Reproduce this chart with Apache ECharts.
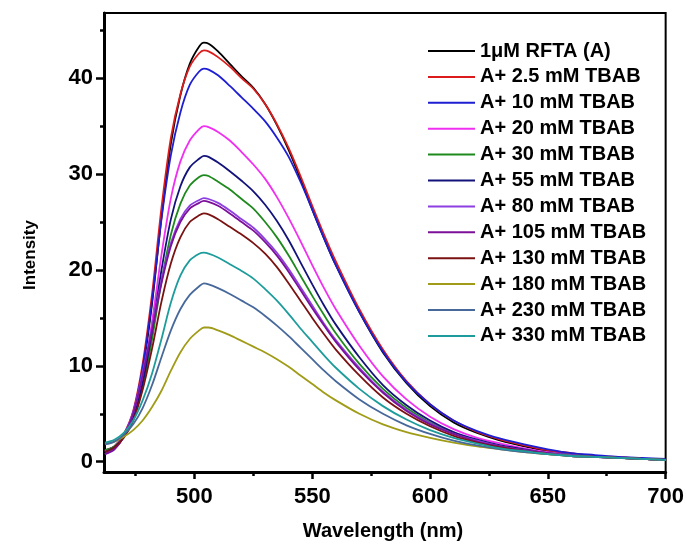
<!DOCTYPE html>
<html>
<head>
<meta charset="utf-8">
<script src="https://cdn.jsdelivr.net/npm/echarts@6/dist/echarts.min.js"></script>
<style>
html,body{margin:0;padding:0;background:#fff;}
#chart{width:687px;height:545px;}
</style>
</head>
<body>
<div id="chart"></div>
<script>
const wavelengths = [462,466,470,474,478,482,486,490,494,498,502,504,506,510,515,520,525,530,535,540,545,550,555,560,570,580,590,600,610,620,630,640,650,660,670,680,690,700];

const seriesNames = ['1\u03bcM RFTA (A)','A+ 2.5 mM TBAB','A+ 10 mM TBAB','A+ 20 mM TBAB','A+ 30 mM TBAB','A+ 55 mM TBAB','A+ 80 mM TBAB','A+ 105 mM TBAB','A+ 130 mM TBAB','A+ 180 mM TBAB','A+ 230 mM TBAB','A+ 330 mM TBAB'];
const seriesColors = ['#000000','#dc1c1c','#1e1ed2','#f030f0','#1e8a1e','#12127a','#8c3ee0','#7c1098','#7a1212','#a09c18','#47689a','#1e9c9c'];

const rfta   = [1.2,1.6,2.8,5.0,9.5,16.5,25.5,33.2,38.2,41.5,43.3,43.7,43.6,42.8,41.5,40.2,39.0,37.3,35.1,32.5,29.5,26.3,23.3,20.5,15.6,11.4,8.2,5.8,4.1,3.0,2.2,1.6,1.1,0.8,0.6,0.4,0.3,0.2];
const tbab2p5= [1.1,1.6,2.9,5.3,10.2,17.5,26.5,33.8,38.3,41.2,42.6,42.9,42.8,42.2,41.2,40.0,38.9,37.3,35.2,32.7,29.8,26.7,23.7,20.9,15.9,11.7,8.4,6.0,4.3,3.1,2.3,1.7,1.2,0.9,0.6,0.5,0.3,0.2];
const tbab10 = [1.0,1.5,2.8,5.1,9.8,16.8,25.3,32.0,36.4,39.3,40.7,41.0,40.9,40.3,39.2,38.0,36.8,35.5,33.8,31.8,29.2,26.3,23.3,20.5,15.6,11.5,8.3,6.0,4.3,3.2,2.4,1.8,1.3,0.9,0.7,0.5,0.4,0.3];
const tbab20 = [1.1,1.6,2.7,4.7,8.6,14.6,21.6,27.5,31.3,33.5,34.7,35.0,34.9,34.4,33.5,32.3,31.0,29.5,27.6,25.4,23.0,20.5,18.1,15.9,12.1,8.9,6.5,4.7,3.4,2.5,1.9,1.4,1.0,0.7,0.5,0.4,0.3,0.2];
const tbab30 = [1.2,1.6,2.6,4.4,7.8,12.8,18.8,23.7,26.9,28.8,29.7,29.9,29.8,29.2,28.4,27.4,26.4,25.0,23.4,21.5,19.4,17.3,15.3,13.4,10.2,7.6,5.6,4.1,3.0,2.2,1.6,1.2,0.9,0.7,0.5,0.4,0.3,0.2];
const tbab55 = [1.0,1.5,2.6,4.5,8.2,13.6,20.0,25.3,28.7,30.7,31.6,31.9,31.8,31.2,30.3,29.3,28.2,26.8,25.1,23.1,20.8,18.5,16.3,14.3,10.9,8.0,5.9,4.3,3.1,2.3,1.7,1.3,0.9,0.7,0.5,0.4,0.3,0.2];
const tbab80 = [0.8,1.3,2.7,5.2,9.3,14.0,18.9,22.8,25.3,26.7,27.3,27.5,27.4,27.0,26.2,25.3,24.4,23.2,21.8,20.1,18.2,16.3,14.4,12.7,9.8,7.3,5.4,4.0,2.9,2.2,1.6,1.2,0.9,0.7,0.5,0.4,0.3,0.2];
const tbab105= [0.8,1.3,2.6,5.0,9.0,13.7,18.6,22.5,25.0,26.4,27.0,27.2,27.1,26.7,25.9,25.0,24.1,22.9,21.5,19.8,17.9,16.0,14.2,12.5,9.6,7.2,5.3,3.9,2.9,2.1,1.6,1.2,0.9,0.6,0.5,0.4,0.3,0.2];
const tbab130= [1.0,1.5,2.5,4.3,7.5,11.8,16.7,20.7,23.4,25.0,25.7,25.9,25.8,25.3,24.5,23.7,22.8,21.7,20.3,18.6,16.8,15.0,13.3,11.7,9.0,6.7,5.0,3.7,2.7,2.0,1.5,1.1,0.8,0.6,0.5,0.4,0.3,0.2];
const tbab180= [1.9,2.1,2.6,3.3,4.3,5.7,7.4,9.5,11.4,12.8,13.7,14.0,14.0,13.7,13.2,12.6,12.0,11.4,10.7,9.9,9.0,8.1,7.2,6.4,5.0,3.9,3.1,2.5,2.0,1.6,1.3,1.0,0.8,0.6,0.5,0.4,0.3,0.2];
const tbab230= [1.8,2.1,2.8,3.9,5.6,8.0,10.9,13.7,15.9,17.4,18.3,18.6,18.5,18.1,17.5,16.8,16.1,15.2,14.2,13.1,11.9,10.7,9.5,8.4,6.5,5.0,3.8,2.9,2.2,1.7,1.3,1.0,0.8,0.6,0.5,0.4,0.3,0.2];
const tbab330= [2.0,2.3,3.0,4.3,6.4,9.2,12.8,16.6,19.4,21.0,21.7,21.8,21.7,21.3,20.6,19.9,19.1,18.0,16.8,15.4,13.9,12.5,11.1,9.8,7.6,5.8,4.4,3.3,2.5,1.9,1.4,1.1,0.8,0.6,0.5,0.4,0.3,0.2];

const allValues = [rfta,tbab2p5,tbab10,tbab20,tbab30,tbab55,tbab80,tbab105,tbab130,tbab180,tbab230,tbab330];

const xMajorTicks = [500,550,600,650,700];
const xMinorTicks = [475,525,575,625,675];
const yMajorTicks = [0,10,20,30,40];
const yMinorTicks = [5,15,25,35,45];

const FONT = 'Liberation Sans, Arial, sans-serif';
const chart = echarts.init(document.getElementById('chart'), null, {renderer:'canvas'});

const series = allValues.map((vals, k) => ({
  name: seriesNames[k],
  type: 'line',
  xAxisIndex: 0,
  yAxisIndex: 0,
  data: wavelengths.map((w, i) => [w, vals[i]]),
  smooth: 0.3,
  showSymbol: false,
  symbol: 'none',
  lineStyle: {color: seriesColors[k], width: 1.8},
  itemStyle: {color: seriesColors[k]},
  animation: false,
  z: 2
}));

const option = {
  animation: false,
  backgroundColor: '#ffffff',
  grid: {left: 104, right: 21, top: 13, bottom: 73, show: true, borderColor: '#000', borderWidth: 2, backgroundColor: 'transparent'},
  legend: {
    orient: 'vertical',
    left: 428,
    top: 41,
    padding: 0,
    icon: 'rect',
    itemWidth: 47,
    itemHeight: 2,
    itemGap: 5.9,
    data: seriesNames,
    textStyle: {fontFamily: FONT, fontWeight: 'bold', fontSize: 20, color: '#000', lineHeight: 20}
  },
  xAxis: [
    {
      type: 'value', min: 461.6, max: 700, position: 'bottom',
      axisLine: {show: true, onZero: false, lineStyle: {color: '#000', width: 3}},
      axisTick: {show: true, customValues: xMajorTicks, length: 7, lineStyle: {color: '#000', width: 2.5}},
      axisLabel: {show: true, customValues: xMajorTicks, fontFamily: FONT, fontWeight: 'bold', fontSize: 22, color: '#000', margin: 14},
      splitLine: {show: false}
    },
    {
      type: 'value', min: 461.6, max: 700, position: 'bottom',
      axisLine: {show: false, onZero: false},
      axisTick: {show: true, customValues: xMinorTicks, length: 4, lineStyle: {color: '#000', width: 2.5}},
      axisLabel: {show: false},
      splitLine: {show: false}
    }
  ],
  yAxis: [
    {
      type: 'value', min: -1.07, max: 46.8, position: 'left',
      axisLine: {show: true, onZero: false, lineStyle: {color: '#000', width: 3}},
      axisTick: {show: true, customValues: yMajorTicks, length: 8, lineStyle: {color: '#000', width: 2.5}},
      axisLabel: {show: true, customValues: yMajorTicks, fontFamily: FONT, fontWeight: 'bold', fontSize: 22, color: '#000', margin: 11},
      splitLine: {show: false}
    },
    {
      type: 'value', min: -1.07, max: 46.8, position: 'left',
      axisLine: {show: false, onZero: false},
      axisTick: {show: true, customValues: yMinorTicks, length: 4, lineStyle: {color: '#000', width: 2.5}},
      axisLabel: {show: false},
      splitLine: {show: false}
    }
  ],
  graphic: [
    {type: 'text', x: 30, y: 255, rotation: Math.PI / 2,
     style: {text: 'Intensity', fontFamily: FONT, fontWeight: 'bold', fontSize: 17, fill: '#000', align: 'center', verticalAlign: 'middle'}},
    {type: 'text', x: 383, y: 531,
     style: {text: 'Wavelength (nm)', fontFamily: FONT, fontWeight: 'bold', fontSize: 20, fill: '#000', align: 'center', verticalAlign: 'middle'}}
  ],
  series: series
};
chart.setOption(option);
</script>
</body>
</html>
